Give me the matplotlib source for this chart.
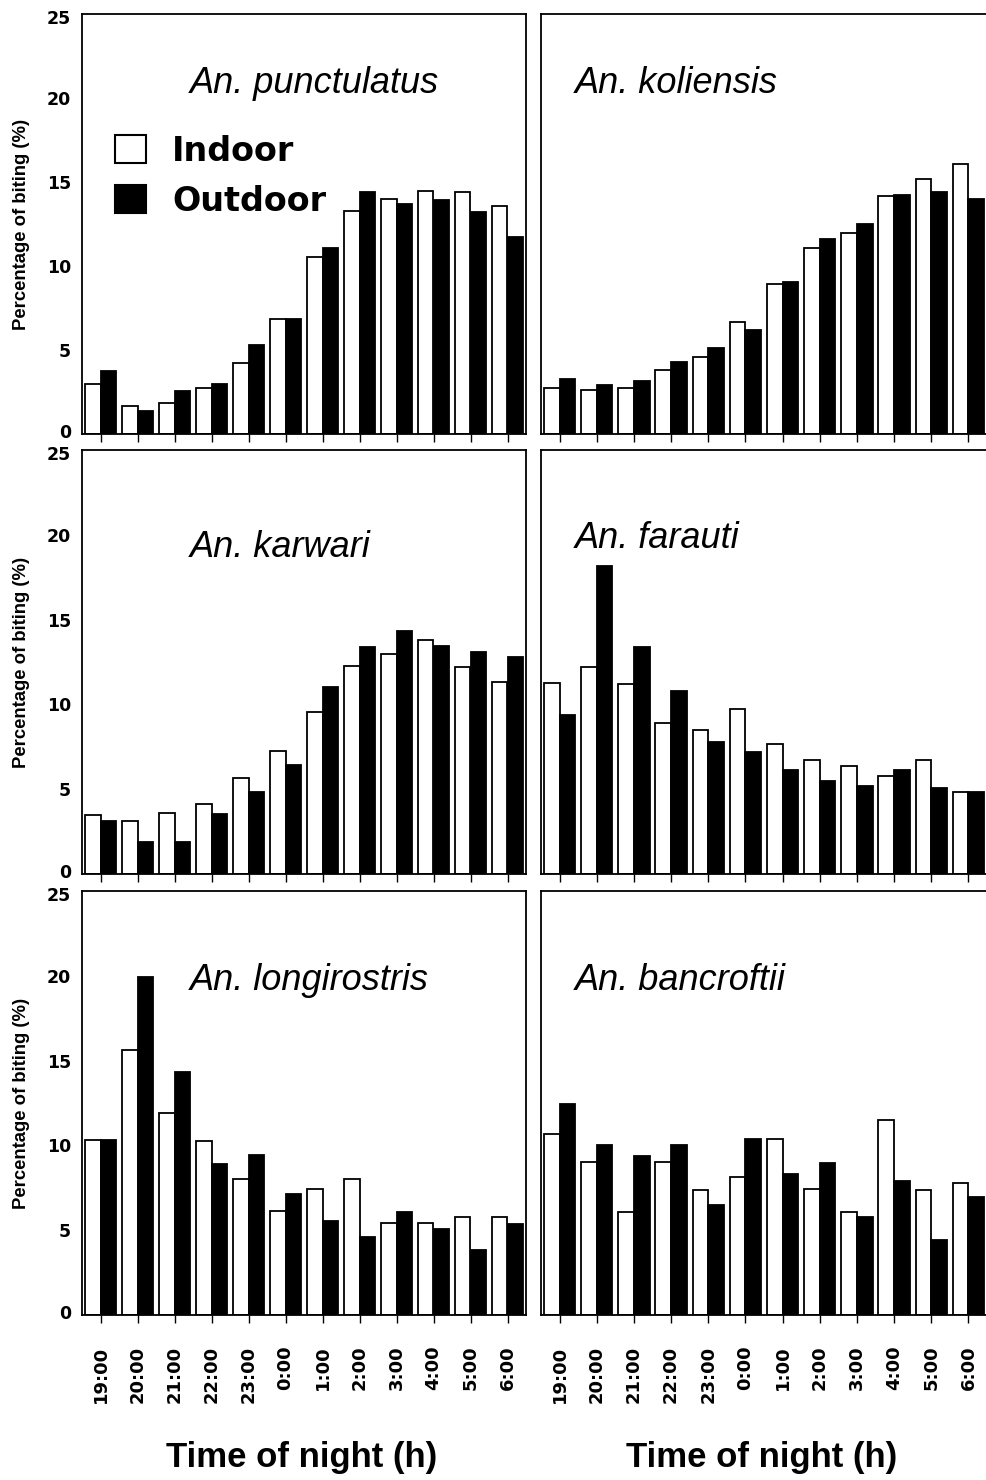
import matplotlib
matplotlib.use('Agg')
import matplotlib.pyplot as plt
import matplotlib.transforms as mtransforms
import numpy as np
from matplotlib.patches import Patch

hours = ['19:00', '20:00', '21:00', '22:00', '23:00', '0:00',
         '1:00', '2:00', '3:00', '4:00', '5:00', '6:00']

species = ['An. punctulatus', 'An. koliensis', 'An. karwari',
           'An. farauti', 'An. longirostris', 'An. bancroftii']

punctulatus_in = [3.0, 1.65, 1.85, 2.75, 4.2, 6.85, 10.55, 13.25, 14.0, 14.45, 14.4, 13.55]
punctulatus_out = [3.75, 1.35, 2.55, 3.0, 5.3, 6.85, 11.05, 14.4, 13.7, 13.95, 13.2, 11.7]

koliensis_in = [2.75, 2.6, 2.75, 3.8, 4.6, 6.65, 8.9, 11.1, 11.95, 14.15, 15.2, 16.1]
koliensis_out = [3.3, 2.9, 3.15, 4.3, 5.1, 6.2, 9.05, 11.6, 12.5, 14.2, 14.4, 14.0]

karwari_in = [3.45, 3.15, 3.6, 4.1, 5.65, 7.25, 9.55, 12.25, 12.95, 13.8, 12.2, 11.35]
karwari_out = [3.1, 1.9, 1.9, 3.55, 4.85, 6.4, 11.0, 13.4, 14.35, 13.45, 13.1, 12.8]

farauti_in = [11.25, 12.2, 11.2, 8.9, 8.5, 9.7, 7.65, 6.75, 6.35, 5.75, 6.75, 4.85]
farauti_out = [9.4, 18.15, 13.4, 10.8, 7.8, 7.2, 6.15, 5.5, 5.2, 6.15, 5.05, 4.85]

longirostris_in = [10.3, 15.6, 11.9, 10.25, 8.0, 6.15, 7.45, 8.0, 5.45, 5.4, 5.75, 5.75]
longirostris_out = [10.3, 19.9, 14.35, 8.9, 9.45, 7.15, 5.55, 4.6, 6.05, 5.05, 3.85, 5.35]

bancroftii_in = [10.7, 9.05, 6.1, 9.05, 7.35, 8.15, 10.35, 7.4, 6.1, 11.5, 7.35, 7.8]
bancroftii_out = [12.45, 10.05, 9.35, 10.05, 6.5, 10.35, 8.3, 8.95, 5.8, 7.9, 4.4, 6.95]

yticks = [0, 5, 10, 15, 20, 25]
ytick_labels = ['0', '5', '10', '15', '20', '25']

indoor = [punctulatus_in, koliensis_in, karwari_in, farauti_in, longirostris_in, bancroftii_in]
outdoor = [punctulatus_out, koliensis_out, karwari_out, farauti_out, longirostris_out, bancroftii_out]

W, H = 986, 1480
fig = plt.figure(figsize=(W / 100, H / 100), dpi=100)
fig.patch.set_facecolor('white')

rows = [(14, 420), (450, 424), (891, 424)]
cols = [(82, 444), (541, 446)]

wide_bold = {'family': 'DejaVu Sans', 'weight': 'bold'}
label_font = ['Liberation Sans', 'DejaVu Sans']

# title positions (axes fraction x, y of baseline)
title_pos = [(0.243, 0.812), (0.076, 0.812), (0.243, 0.748),
             (0.076, 0.769), (0.243, 0.767), (0.076, 0.767)]

x = np.arange(len(hours))
bw = 0.42

for i in range(6):
    r, c = divmod(i, 2)
    y0, h = rows[r]
    x0, w = cols[c]
    ax = fig.add_axes([x0 / W, 1 - (y0 + h) / H, w / W, h / H])
    ax.bar(x - bw / 2, indoor[i], width=bw, facecolor='white', edgecolor='black',
           linewidth=1.3, label='Indoor')
    ax.bar(x + bw / 2, outdoor[i], width=bw, facecolor='black', edgecolor='black',
           linewidth=1.3, label='Outdoor')
    ax.set_xlim(-0.5, 11.5)
    ax.set_ylim(0, 25)
    for s in ax.spines.values():
        s.set_linewidth(1.3)
        s.set_color('black')
    ax.set_xticks(x)
    ax.tick_params(axis='x', direction='out', length=6, width=1.0, pad=16)
    ax.set_yticks(yticks)
    ax.tick_params(axis='y', length=0, pad=8)
    if c == 0:
        ax.set_yticklabels(ytick_labels, fontsize=12.5, **wide_bold)
        labs = ax.get_yticklabels()
        up = mtransforms.ScaledTranslation(0, 3 / 100, fig.dpi_scale_trans)
        down = mtransforms.ScaledTranslation(0, -3 / 100, fig.dpi_scale_trans)
        labs[0].set_transform(labs[0].get_transform() + up)
        labs[-1].set_transform(labs[-1].get_transform() + down)
        ax.set_ylabel('Percentage of biting (%)', fontsize=13.3, fontweight='bold',
                      family=label_font)
        ax.yaxis.label.set_va('center')
        ax.yaxis.set_label_coords(-60 / w, 0.5)
    else:
        ax.set_yticklabels([])
    if r == 2:
        ax.set_xticklabels(hours, rotation=90, fontsize=13, **wide_bold)
        ax.set_xlabel('Time of night (h)', fontsize=25, fontweight='bold', family=label_font)
        ax.xaxis.label.set_va('center')
        ax.xaxis.set_label_coords(0.495, -0.337)
    else:
        ax.set_xticklabels([])
    tx, ty = title_pos[i]
    ax.text(tx, ty, species[i], transform=ax.transAxes, fontsize=26,
            style='italic', family='Liberation Sans', va='baseline', ha='left')
    if i == 0:
        handles = [Patch(facecolor='white', edgecolor='black', linewidth=1.5),
                   Patch(facecolor='black', edgecolor='black', linewidth=1.5)]
        ax.legend(handles, ['Indoor', 'Outdoor'], loc='upper left',
                  bbox_to_anchor=(0.074, 0.713), borderaxespad=0, borderpad=0,
                  frameon=False, handlelength=0.92, handleheight=0.88,
                  handletextpad=0.8, labelspacing=0.51,
                  prop={'family': 'DejaVu Sans', 'weight': 'bold', 'size': 24})

fig.savefig('out.png', dpi=100, facecolor='white')
